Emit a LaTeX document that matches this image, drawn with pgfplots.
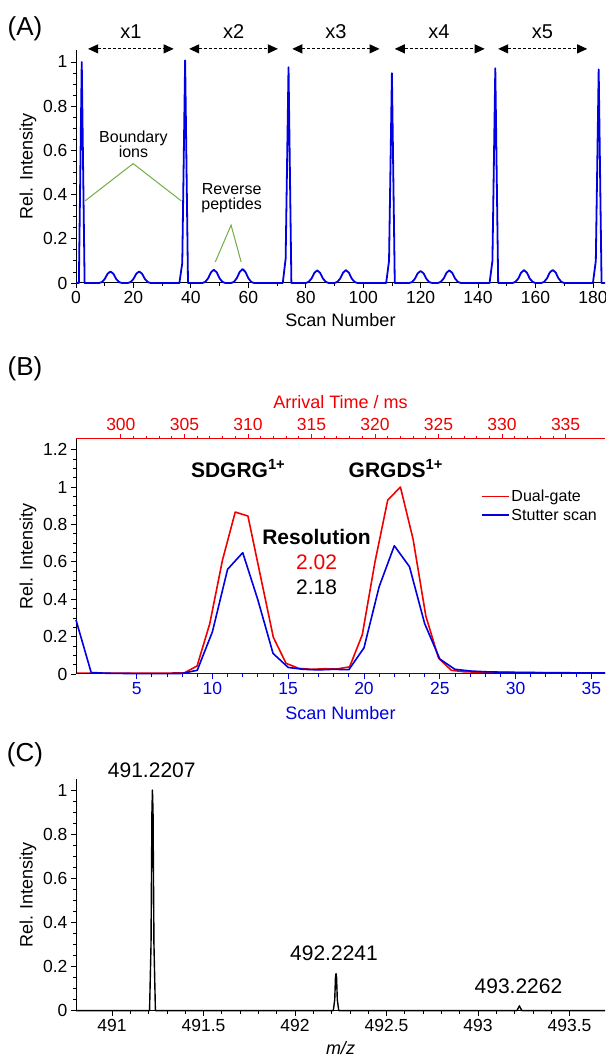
\documentclass[border=0pt]{standalone}
\usepackage{pgfplots}
\pgfplotsset{compat=1.18}
\usepackage{fontspec}
\setmainfont{Liberation Sans}
\usetikzlibrary{arrows.meta}
\definecolor{myblue}{RGB}{0,0,225}
\definecolor{myred}{RGB}{240,0,0}
\definecolor{mygreen}{RGB}{112,173,71}
\pgfplotsset{
  base/.style={
    scale only axis, width=529pt, clip=false, enlargelimits=false,
    tick align=outside, major tick length=5pt, minor tick length=3pt,
    axis line style={line width=1pt},
    tick label style={font=\fontsize{17.5}{19}\selectfont},
    label style={font=\fontsize{18}{20}\selectfont},
    /pgf/number format/assume math mode=true,
    scaled x ticks=false, scaled y ticks=false,
  },
  blk/.style={xtick style={black,line width=0.8pt}, ytick style={black,line width=0.8pt}},
  ylab/.style={ylabel={Rel. Intensity}, ylabel style={at={(axis description cs:-0.0907,0.5)}, anchor=center}},
}
\tikzset{rarrow/.style={line width=1pt, dash pattern=on 3pt off 2pt, {Triangle[length=10pt,width=9pt]}-{Triangle[length=10pt,width=9pt]}}}
\begin{document}
\begin{tikzpicture}[x=1pt,y=1pt]
\useasboundingbox (0,0) rectangle (605,1057);
\node[font=\fontsize{26}{28}\selectfont] at (25,1028) {(A)};
\node[font=\fontsize{26}{28}\selectfont] at (25,688) {(B)};
\node[font=\fontsize{26}{28}\selectfont] at (25,302) {(C)};

% ---------------- Panel A ----------------
\begin{axis}[base, blk, ylab, at={(76pt,774pt)}, anchor=south west, height=233pt,
  xmin=0, xmax=184.2, ymin=0, ymax=1.054,
  axis x line*=bottom, axis y line*=left,
  xtick={0,20,40,60,80,100,120,140,160,180}, minor x tick num=1,
  ytick={0,0.2,0.4,0.6,0.8,1}, minor y tick num=3,
  xlabel={Scan Number}, xlabel style={at={(axis description cs:0.5,-0.159)}, anchor=center},
]
\addplot[myblue, line width=1.8pt, line join=round] coordinates {
(0,0)(1,0)(2,1.0)(3,0)
(8,0)(9,0.004)(10,0.018)(11,0.042)(12,0.052)(13,0.042)(14,0.018)(15,0.004)(16,0)
(18,0)(19,0.004)(20,0.018)(21,0.042)(22,0.052)(23,0.042)(24,0.018)(25,0.004)(26,0)
(36,0)(37,0.09)(38,1.007)(39,0)
(44,0)(45,0.005)(46,0.021)(47,0.048)(48,0.060)(49,0.048)(50,0.021)(51,0.005)(52,0)
(54,0)(55,0.005)(56,0.022)(57,0.05)(58,0.063)(59,0.05)(60,0.022)(61,0.005)(62,0)
(72,0)(73,0.11)(74,0.976)(75,0)
(80,0)(81,0.005)(82,0.02)(83,0.046)(84,0.057)(85,0.046)(86,0.02)(87,0.005)(88,0)
(90,0)(91,0.005)(92,0.02)(93,0.047)(94,0.058)(95,0.047)(96,0.02)(97,0.005)(98,0)
(108,0)(109,0.1)(110,0.949)(111,0)
(116,0)(117,0.004)(118,0.019)(119,0.044)(120,0.054)(121,0.044)(122,0.019)(123,0.004)(124,0)
(126,0)(127,0.005)(128,0.02)(129,0.046)(130,0.057)(131,0.046)(132,0.02)(133,0.005)(134,0)
(144,0)(145,0.1)(146,0.971)(147,0)
(152,0)(153,0.005)(154,0.02)(155,0.047)(156,0.058)(157,0.047)(158,0.02)(159,0.005)(160,0)
(162,0)(163,0.005)(164,0.021)(165,0.048)(166,0.059)(167,0.048)(168,0.021)(169,0.005)(170,0)
(180,0)(181,0.1)(182,0.966)(183,0)(184.2,0)
};
% range arrows
\draw[rarrow] (axis cs:4.2,1.059) -- (axis cs:34,1.059);
\draw[rarrow] (axis cs:39.4,1.059) -- (axis cs:70.3,1.059);
\draw[rarrow] (axis cs:75.3,1.059) -- (axis cs:105.7,1.059);
\draw[rarrow] (axis cs:111,1.059) -- (axis cs:142.3,1.059);
\draw[rarrow] (axis cs:147,1.059) -- (axis cs:178,1.059);
\node[font=\fontsize{20}{22}\selectfont] at (axis cs:19.1,1.136) {x1};
\node[font=\fontsize{20}{22}\selectfont] at (axis cs:54.9,1.136) {x2};
\node[font=\fontsize{20}{22}\selectfont] at (axis cs:90.5,1.136) {x3};
\node[font=\fontsize{20}{22}\selectfont] at (axis cs:126.4,1.136) {x4};
\node[font=\fontsize{20}{22}\selectfont] at (axis cs:162.4,1.136) {x5};
\draw[mygreen, line width=1pt] (axis cs:3.1,0.371) -- (axis cs:19.9,0.54) -- (axis cs:36.7,0.371);
\draw[mygreen, line width=1pt] (axis cs:48.5,0.095) -- (axis cs:54,0.262) -- (axis cs:57.5,0.095);
\node[font=\fontsize{16}{18}\selectfont, align=center] at (axis cs:20,0.627) {Boundary\\[-3pt]ions};
\node[font=\fontsize{16}{18}\selectfont, align=center] at (axis cs:54.2,0.383) {Reverse\\[-3pt]peptides};
\end{axis}

% ---------------- Panel B (top red axis) ----------------
\begin{axis}[base, at={(76pt,383pt)}, anchor=south west, height=235pt,
  xmin=296.47, xmax=338.1, ymin=0, ymax=1.257,
  axis x line*=top, axis y line=none,
  x axis line style={myred}, xtick style={myred,line width=0.8pt},
  xticklabel style={myred},
  xtick={300,305,310,315,320,325,330,335}, minor x tick num=4,
  xlabel={Arrival Time / ms}, xlabel style={myred, at={(axis description cs:0.5,1.157)}, anchor=center},
]
\addplot[myred, line width=1.6pt, line join=round] coordinates {
(296.47,0.005)(298,0.005)(300,0.005)(302,0.005)(304,0.005)(305,0.006)(306,0.043)(307,0.27)(308,0.61)(309,0.866)(310,0.845)
(311,0.52)(312,0.196)(313,0.057)(314,0.030)(315,0.025)(316,0.028)(317,0.027)(318,0.038)(319,0.21)(320,0.60)
(321,0.93)(322,1.0)(323,0.72)(324,0.31)(325,0.085)(326,0.02)(327,0.012)(328,0.01)(330,0.008)(332,0.007)(334,0.006)(336,0.005)(338.1,0.005)
};
\end{axis}

% ---------------- Panel B (bottom blue axis) ----------------
\begin{axis}[base, ylab, at={(76pt,383pt)}, anchor=south west, height=235pt,
  xmin=1, xmax=35.9, ymin=0, ymax=1.257,
  axis x line*=bottom, axis y line*=left,
  x axis line style={myblue}, xtick style={myblue,line width=0.8pt},
  xticklabel style={myblue}, ytick style={black,line width=0.8pt},
  xtick={5,10,15,20,25,30,35}, minor x tick num=4,
  ytick={0,0.2,0.4,0.6,0.8,1,1.2}, minor y tick num=3,
  xlabel={Scan Number}, xlabel style={myblue, at={(axis description cs:0.5,-0.165)}, anchor=center},
  legend style={at={(axis description cs:0.765,0.793)}, anchor=north west, draw=none, fill=none,
    font=\fontsize{16}{18}\selectfont, inner sep=0pt, row sep=2pt, cells={anchor=west}},
  legend image code/.code={\draw[#1] (0pt,0pt) -- (27pt,0pt);},
]
\addlegendimage{myred, line width=1.6pt}
\addlegendentry{Dual-gate}
\addplot[myblue, line width=1.6pt, line join=round] coordinates {
(1,0.289)(2,0.008)(3,0.004)(4,0.003)(5,0.002)(6,0.002)(7,0.002)(8,0.003)(9,0.02)(10,0.226)
(11,0.56)(12,0.649)(13,0.396)(14,0.11)(15,0.035)(16,0.025)(17,0.022)(18,0.025)(19,0.023)(20,0.14)
(21,0.467)(22,0.686)(23,0.574)(24,0.27)(25,0.08)(26,0.025)(27,0.016)(28,0.012)(29,0.01)(30,0.009)
(31,0.008)(32,0.007)(33,0.007)(34,0.006)(35,0.006)(35.9,0.006)
};
\addlegendentry{Stutter scan}
\node[font=\bfseries\fontsize{21}{23}\selectfont] at (axis cs:11.7,1.10) {SDGRG\textsuperscript{1+}};
\node[font=\bfseries\fontsize{21}{23}\selectfont] at (axis cs:22.1,1.10) {GRGDS\textsuperscript{1+}};
\node[font=\bfseries\fontsize{21}{23}\selectfont] at (axis cs:16.87,0.734) {Resolution};
\node[font=\fontsize{21}{23}\selectfont, text=myred] at (axis cs:16.87,0.60) {2.02};
\node[font=\fontsize{21}{23}\selectfont] at (axis cs:16.87,0.464) {2.18};
\end{axis}

% ---------------- Panel C ----------------
\begin{axis}[base, blk, ylab, at={(76pt,46.3pt)}, anchor=south west, height=231.7pt,
  xmin=490.803, xmax=493.694, ymin=0, ymax=1.05,
  axis x line*=bottom, axis y line*=left,
  xtick={491,491.5,492,492.5,493,493.5}, minor x tick num=4,
  ytick={0,0.2,0.4,0.6,0.8,1}, minor y tick num=3,
  xlabel={\textit{m/z}}, xlabel style={at={(axis description cs:0.5,-0.161)}, anchor=center},
]
\addplot[black, line width=1.4pt, line join=round] coordinates {
(490.803,0)(491.205,0)(491.213,0.3)(491.218,0.9)(491.2207,1.0)(491.224,0.9)(491.229,0.3)(491.237,0)
(492.209,0)(492.217,0.05)(492.221,0.15)(492.2241,0.168)(492.227,0.15)(492.231,0.05)(492.239,0)
(493.212,0)(493.22,0.012)(493.2262,0.022)(493.232,0.012)(493.24,0)(493.694,0)
};
\node[font=\fontsize{21}{23}\selectfont] at (axis cs:491.217,1.09) {491.2207};
\node[font=\fontsize{21}{23}\selectfont] at (axis cs:492.213,0.262) {492.2241};
\node[font=\fontsize{21}{23}\selectfont] at (axis cs:493.221,0.109) {493.2262};
\end{axis}
\end{tikzpicture}
\end{document}
